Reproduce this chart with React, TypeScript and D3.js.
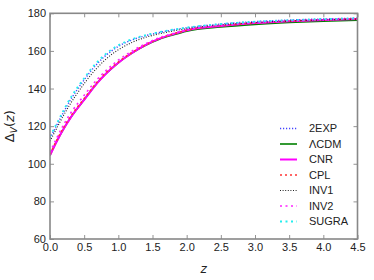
import * as d3 from "d3";
import React, { useEffect, useRef } from "react";

// redshift grid and Delta_V values
const zs = [0, 0.1, 0.2, 0.3, 0.4, 0.5, 0.6, 0.7, 0.8, 0.9, 1.0, 1.2, 1.4, 1.6, 1.8, 2.0, 2.5, 3.0, 3.5, 4.0, 4.5];

const twoExp = [113.5, 120.6, 127.5, 134, 139.5, 144.6, 149.4, 153.5, 157.1, 160, 162.4, 165.8, 168.1, 169.8, 171.2, 172.3, 174.3, 175.6, 176.4, 177.0, 177.4];
const lcdm = [104.5, 112, 118.6, 124.4, 129.4, 134.0, 138.8, 143.3, 147.2, 150.6, 153.7, 158.8, 163.0, 166.2, 168.5, 170.5, 172.7, 174.1, 175.1, 175.8, 176.3];
const cnr = [104.5, 112, 118.6, 124.4, 129.4, 134.0, 138.8, 143.3, 147.2, 150.6, 153.7, 158.9, 163.2, 166.5, 168.9, 171.0, 173.3, 174.8, 175.8, 176.5, 177.0];
const cpl = [105, 112.6, 119.3, 125.1, 130.1, 134.7, 139.4, 143.9, 147.8, 151.1, 154.1, 159.2, 163.3, 166.6, 169.0, 171.0, 173.4, 174.8, 175.8, 176.5, 177.0];
const inv1 = [112, 119, 125.8, 132, 137.5, 142.6, 147.3, 151.4, 155.0, 158.1, 160.6, 164.5, 167.2, 169.1, 170.6, 171.8, 173.9, 175.1, 175.9, 176.5, 176.9];
const inv2 = [106, 113.8, 120.8, 126.8, 131.8, 136.4, 141.0, 145.2, 148.9, 152.2, 155.1, 159.9, 163.8, 167.0, 169.2, 171.2, 173.6, 175.0, 176.0, 176.7, 177.2];
const sugra = [114.5, 121.5, 128.5, 135, 140.5, 145.5, 150.3, 154.4, 157.9, 160.7, 163, 166.2, 168.4, 170, 171.3, 172.4, 174.3, 175.5, 176.3, 176.9, 177.3];

const xTicks = [0, 0.5, 1, 1.5, 2, 2.5, 3, 3.5, 4, 4.5];
const yTicks = [60, 80, 100, 120, 140, 160, 180];

const series = [
  { name: "2EXP", values: twoExp, color: "#4444ff", width: 1.4, dash: "1.2,1.8" },
  { name: "ΛCDM", values: lcdm, color: "#008000", width: 1.6, dash: null },
  { name: "CNR", values: cnr, color: "#ff00ff", width: 2, dash: null },
  { name: "CPL", values: cpl, color: "#ff3333", width: 1.6, dash: "2,3" },
  { name: "INV1", values: inv1, color: "#222222", width: 1.1, dash: "1,1.6" },
  { name: "INV2", values: inv2, color: "#ff22ff", width: 1.6, dash: "2,3.5" },
  { name: "SUGRA", values: sugra, color: "#22eeee", width: 1.8, dash: "2,3.5" },
];

const W = 374;
const H = 280;
const margin = { top: 13.3, right: 16.5, bottom: 41, left: 50 };

const App = () => {
  const ref = useRef<SVGSVGElement | null>(null);

  useEffect(() => {
    document.body.style.margin = "0";
    const width = W - margin.left - margin.right;
    const height = H - margin.top - margin.bottom;

    const x = d3.scaleLinear().domain([0, 4.5]).range([0, width]);
    const y = d3.scaleLinear().domain([60, 180]).range([height, 0]);

    const root = d3.select(ref.current);
    root.selectAll("*").remove();
    const g = root.append("g").attr("transform", `translate(${margin.left},${margin.top})`);

    // lines
    const line = d3
      .line<number>()
      .x((d, i) => x(zs[i]))
      .y((d) => y(d))
      .curve(d3.curveMonotoneX);

    const clip = root.append("clipPath").attr("id", "plot-clip");
    clip.append("rect").attr("width", width).attr("height", height);

    series.forEach((s) => {
      g.append("path")
        .datum(s.values)
        .attr("d", line)
        .attr("fill", "none")
        .attr("clip-path", "url(#plot-clip)")
        .attr("stroke", s.color)
        .attr("stroke-width", s.width)
        .attr("stroke-dasharray", s.dash ?? null);
    });

    // axes with inward ticks on every side
    const font = "'Liberation Sans', Arial, sans-serif";
    const bottom = g.append("g").attr("transform", `translate(0,${height})`)
      .call(d3.axisBottom(x).tickValues(xTicks).tickFormat(d3.format(".1f")).tickSizeInner(-4).tickSizeOuter(0).tickPadding(4));
    const left = g.append("g")
      .call(d3.axisLeft(y).tickValues(yTicks).tickFormat(d3.format("d")).tickSizeInner(-4).tickSizeOuter(0).tickPadding(4));
    const top = g.append("g")
      .call(d3.axisTop(x).tickValues(xTicks).tickFormat(() => "").tickSizeInner(-4).tickSizeOuter(0));
    const right = g.append("g").attr("transform", `translate(${width},0)`)
      .call(d3.axisRight(y).tickValues(yTicks).tickFormat(() => "").tickSizeInner(-4).tickSizeOuter(0));

    [bottom, left, top, right].forEach((a) => {
      a.select(".domain").remove();
      a.selectAll(".tick line").attr("stroke", "#777").attr("stroke-width", 0.8);
      a.selectAll(".tick text").attr("fill", "#222").style("font-size", "11px").style("font-family", font);
    });

    // frame
    g.append("rect")
      .attr("width", width)
      .attr("height", height)
      .attr("fill", "none")
      .attr("stroke", "#888")
      .attr("stroke-width", 1.6);

    // legend
    const legend = g.append("g").attr("transform", `translate(${280 - margin.left},${128.5 - margin.top})`);
    series.forEach((s, i) => {
      const row = legend.append("g").attr("transform", `translate(0,${i * 15.5})`);
      row.append("line")
        .attr("x1", 0)
        .attr("x2", 17)
        .attr("stroke", s.color)
        .attr("stroke-width", s.width)
        .attr("stroke-dasharray", s.dash ?? null);
      row.append("text")
        .attr("x", 29)
        .attr("dy", "0.36em")
        .attr("fill", "#222")
        .style("font-size", "11px")
        .style("font-family", font)
        .text(s.name);
    });

    // axis labels
    g.append("text")
      .attr("x", width / 2)
      .attr("y", height + 34)
      .attr("text-anchor", "middle")
      .style("font-family", "'DejaVu Sans', sans-serif")
      .style("font-style", "italic")
      .style("font-size", "12px")
      .attr("fill", "#222")
      .text("z");

    const yl = g.append("text")
      .attr("transform", `translate(-36,${height / 2}) rotate(-90)`)
      .attr("text-anchor", "middle")
      .style("font-family", "'DejaVu Sans', sans-serif")
      .style("font-size", "13px")
      .attr("fill", "#222");
    yl.append("tspan").text("Δ");
    yl.append("tspan").attr("dy", 3).style("font-size", "9px").style("font-style", "italic").text("V");
    yl.append("tspan").attr("dy", -3).text("(");
    yl.append("tspan").style("font-style", "italic").text("z");
    yl.append("tspan").text(")");
  }, []);

  return (
    <svg ref={ref} width={W} height={H} style={{ position: "absolute", left: 0, top: 0, background: "#fff" }} />
  );
};

export default App;
